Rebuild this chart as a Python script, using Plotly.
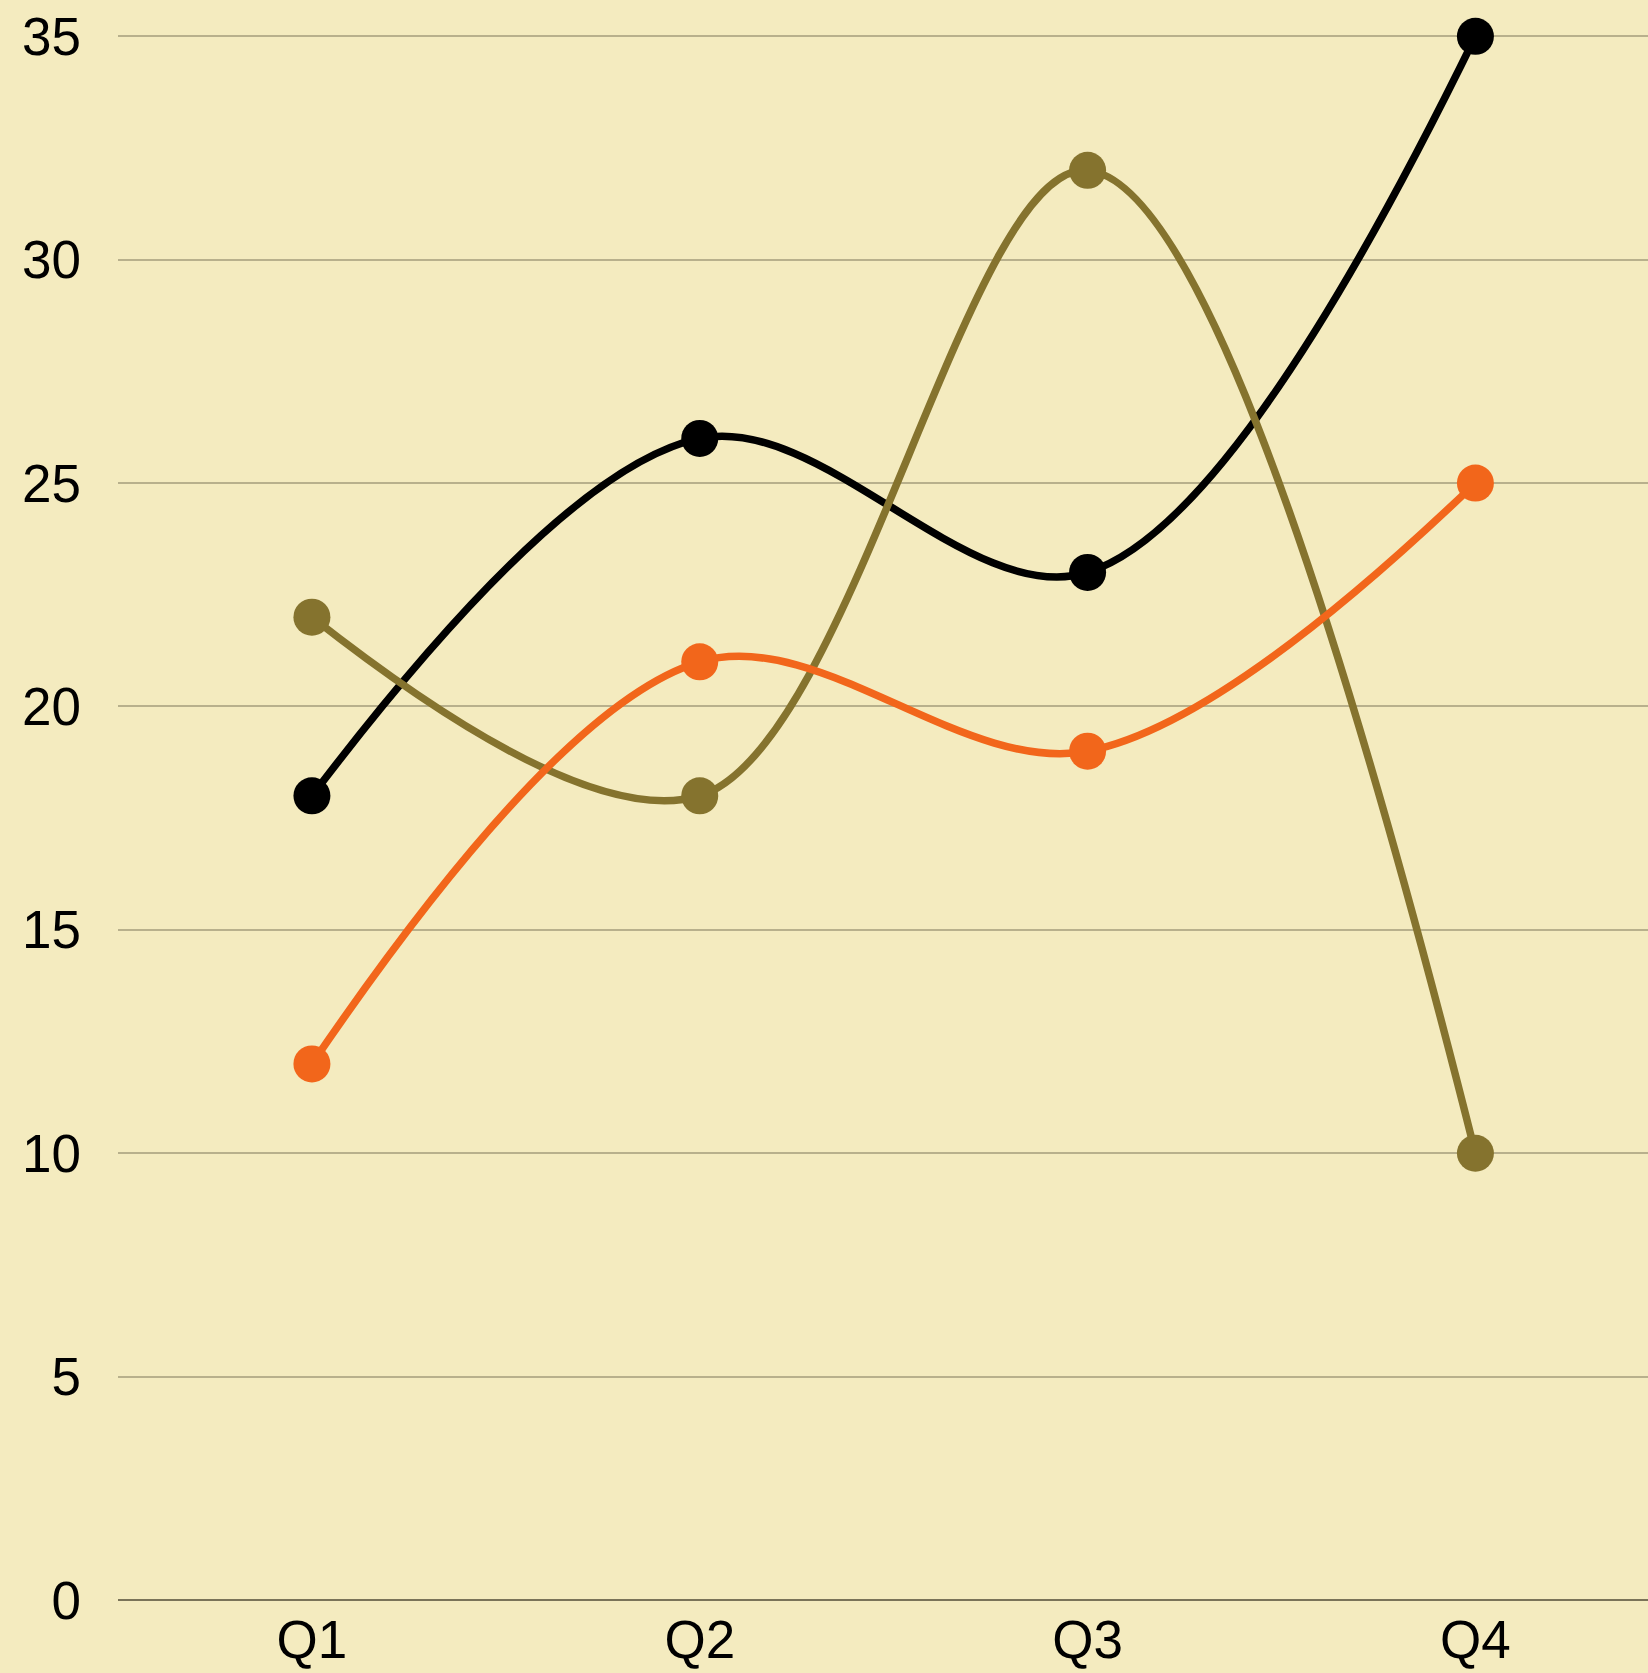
import plotly.graph_objects as go

# Quarterly values for three series
quarters = ["Q1", "Q2", "Q3", "Q4"]
series_black = [18, 26, 23, 35]
series_olive = [22, 18, 32, 10]
series_orange = [12, 21, 19, 25]

y_ticks = [0, 5, 10, 15, 20, 25, 30, 35]

BG = "#F4EBBF"
BLACK = "#000000"
OLIVE = "#85732E"
ORANGE = "#F2661B"

fig = go.Figure()

# Drawn in this order so orange sits on olive, olive on black
for values, color in [(series_black, BLACK), (series_olive, OLIVE), (series_orange, ORANGE)]:
    fig.add_trace(go.Scatter(
        x=quarters,
        y=values,
        mode="lines+markers",
        line=dict(color=color, width=7.5, shape="spline", smoothing=1),
        marker=dict(color=color, size=37),
        showlegend=False,
        cliponaxis=False,
    ))

fig.update_layout(
    width=1648,
    height=1673,
    margin=dict(l=118, r=0, t=35, b=73),
    paper_bgcolor=BG,
    plot_bgcolor=BG,
    font=dict(family="Liberation Sans, Arial, sans-serif", size=53, color="#000000"),
)

fig.update_xaxes(
    type="category",
    range=[-0.5, 3.445],
    showgrid=False,
    showline=False,
    zeroline=False,
    ticks="",
    ticklabelstandoff=4,
)

fig.update_yaxes(
    range=[0, 35.03],
    tickvals=y_ticks,
    showgrid=True,
    gridcolor="#B8B08C",
    gridwidth=2,
    zeroline=True,
    zerolinecolor="#7A7358",
    zerolinewidth=2,
    showline=False,
    ticks="",
    ticklabelstandoff=36,
)

fig.write_html("out.html")
